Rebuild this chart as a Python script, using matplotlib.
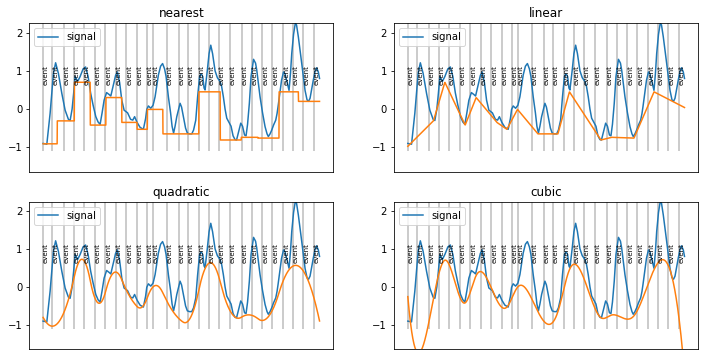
import numpy as np
import matplotlib
matplotlib.use('Agg')
import matplotlib.pyplot as plt

# signal samples (time, value)
sig_t = [0.0, 3.7, 7.0, 10.3, 12.5, 15.3, 18.7, 22.0, 25.3, 27.0, 29.0, 30.5, 32.0, 34.5,
         37.0, 40.0, 42.5, 45.0, 47.5, 50.0, 52.7, 55.0, 57.0, 59.0, 61.0, 63.5, 66.0,
         67.7, 70.0, 72.5, 74.3, 76.5, 78.7, 81.0, 84.5, 87.5, 89.7, 91.5, 94.0, 97.0,
         100.3, 102.5, 103.7, 105.3, 107.7, 110.0, 112.0, 115.3, 117.5, 119.5, 121.5,
         123.0, 125.3, 127.5, 129.0, 130.5, 132.0, 133.7, 137.0, 138.5, 140.3, 142.5,
         144.3, 146.5, 148.7, 150.5, 152.7, 154.5, 156.5, 158.0, 159.7, 161.0, 162.0,
         164.3, 166.0, 167.7, 169.5, 172.0, 174.3, 177.0, 178.5, 180.3, 182.0, 183.7,
         186.0, 188.0, 190.0, 192.0, 193.5, 195.5, 197.7, 199.5, 201.5, 203.0, 204.5,
         206.3, 208.0, 210.5, 212.5, 213.7, 215.5, 217.0, 219.5, 222.0, 224.0, 225.3,
         227.0, 228.7, 230.5, 232.7, 234.0, 235.0, 237.0, 238.5, 240.5, 242.0, 244.3,
         246.0, 247.5, 248.7, 250.5, 252.3, 253.5, 255.3, 257.0, 258.7, 260.5, 262.0,
         264.0, 265.5, 267.0, 268.5, 270.3, 272.0, 273.5, 275.3, 276.5]
sig_y = [-0.90, -0.92, -0.11, 0.93, 1.21, 0.93, 0.41, -0.03, -0.27, -0.30, 0.00, 0.40,
         0.85, 0.72, 0.85, 1.05, 1.10, 0.85, 0.42, 0.10, -0.20, -0.34, -0.40, -0.10,
         0.23, 0.43, 0.38, 0.34, 0.60, 0.88, 0.97, 0.70, 0.23, -0.03, -0.10, -0.27,
         -0.29, -0.20, -0.35, -0.48, -0.53, -0.25, -0.01, 0.08, 0.02, 0.10, 0.32, 0.89,
         1.12, 1.19, 1.05, 0.85, 0.32, -0.10, -0.45, -0.63, -0.45, -0.20, 0.15, 0.05,
         -0.20, -0.50, -0.63, -0.65, -0.65, -0.55, -0.29, 0.30, 0.85, 0.92, 0.85, 0.55,
         0.50, 1.02, 1.45, 1.67, 1.45, 1.00, 0.82, 0.72, 0.60, 0.32, 0.00, -0.24,
         -0.35, -0.45, -0.70, -0.80, -0.81, -0.60, -0.37, -0.45, -0.68, -0.70, -0.40,
         0.15, 0.85, 1.30, 1.20, 1.02, 0.65, 0.32, -0.10, -0.46, -0.65, -0.72, -0.65,
         -0.55, -0.42, -0.29, -0.12, 0.06, 0.45, 0.75, 0.97, 0.92, 0.67, 0.49, 0.95,
         1.45, 1.95, 2.25, 2.20, 1.89, 1.55, 1.19, 0.80, 0.49, 0.24, 0.20, 0.28, 0.50,
         0.76, 0.98, 1.08, 0.97, 0.80]

# event times
events = [0, 9.3, 20.7, 30.7, 41, 52, 62.3, 73, 83.3, 93.7, 103.7, 109.7, 123.7, 136,
          144.7, 156, 165.7, 176, 187, 198.7, 208.7, 219.3, 229.3, 240.3, 249.7, 260.3, 271]

# points that get interpolated
knot_t = [2.5, 25.6, 37, 57.3, 68.3, 89, 99, 109.6, 130, 150, 161.5, 193, 203.5, 226, 246, 264.6]
knot_y = [-0.91, -0.31, 0.70, -0.42, 0.30, -0.35, -0.53, -0.01, -0.65, -0.65, 0.45,
          -0.81, -0.74, -0.76, 0.45, 0.20]

kinds = ['nearest', 'linear', 'quadratic', 'cubic']


def deboor(xs, t, c, k):
    n = len(c)
    out = np.empty(len(xs))
    for m, xv in enumerate(xs):
        i = np.searchsorted(t, xv, side='right') - 1
        i = min(max(i, k), n - 1)
        d = [c[j + i - k] for j in range(k + 1)]
        for r in range(1, k + 1):
            for j in range(k, r - 1, -1):
                a = (xv - t[j + i - k]) / (t[j + 1 + i - r] - t[j + i - k])
                d[j] = (1 - a) * d[j - 1] + a * d[j]
        out[m] = d[k]
    return out


def interp(x, y, xs, kind):
    x = np.asarray(x, float)
    y = np.asarray(y, float)
    if kind == 'nearest':
        bds = (x[1:] + x[:-1]) / 2
        return y[np.searchsorted(bds, xs, side='left')]
    k = {'linear': 1, 'quadratic': 2, 'cubic': 3}[kind]
    if k == 1:
        t = np.r_[x[0], x, x[-1]]
    elif k == 2:
        mid = (x[1:] + x[:-1]) / 2
        t = np.r_[(x[0],) * 3, mid[1:-1], (x[-1],) * 3]
    else:
        t = np.r_[(x[0],) * 4, x[2:-2], (x[-1],) * 4]
    n = len(x)
    A = np.zeros((n, n))
    for j in range(n):
        e = np.zeros(n)
        e[j] = 1
        A[:, j] = deboor(x, t, e, k)
    c = np.linalg.solve(A, y)
    return deboor(xs, t, c, k)


xs = np.linspace(sig_t[0], sig_t[-1], 1500)

fig = plt.figure(figsize=(705 / 72, 360 / 72), dpi=72)
pos = [[0.0416, 0.523, 0.4312, 0.412], [0.5589, 0.523, 0.4316, 0.412],
       [0.0416, 0.0297, 0.4312, 0.4103], [0.5589, 0.0297, 0.4316, 0.4103]]

for lc, kind in enumerate(kinds):
    ax = fig.add_axes(pos[lc])
    ax.vlines(events, -1.1, 3, color='0.8', lw=2, zorder=1)
    for e in events:
        ax.text(e, 1.15, 'event', rotation=90, ha='left', va='top', fontsize=7, zorder=3)
    ax.plot(sig_t, sig_y, color='C0', label='signal', zorder=2)
    ax.plot(xs, interp(knot_t, knot_y, xs, kind), color='C1', zorder=2)
    ax.set_xlim(-13.8, 290.3)
    ax.set_ylim(-1.64, 2.24)
    ax.set_xticks([])
    ax.set_yticks([-1, 0, 1, 2])
    ax.set_title(kind)
    ax.legend(loc='upper left')

fig.savefig('out.png', dpi=72)
